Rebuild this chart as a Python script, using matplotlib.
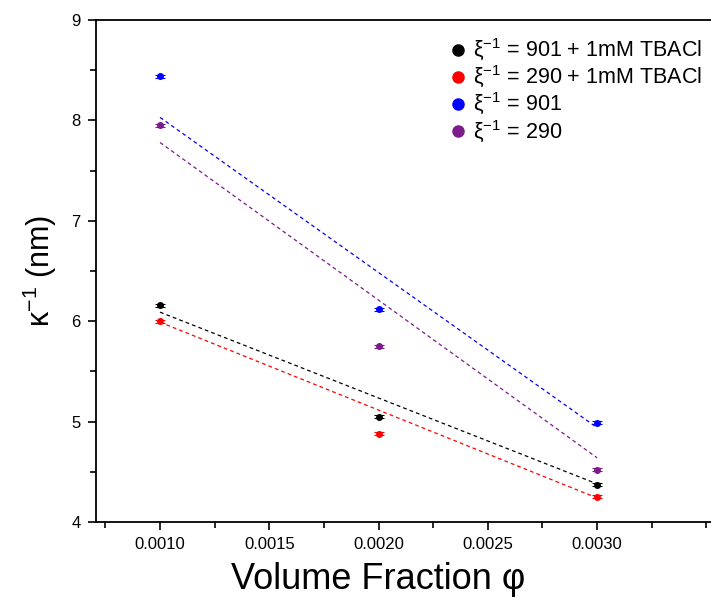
import matplotlib
matplotlib.use("Agg")
import matplotlib.pyplot as plt
from matplotlib.lines import Line2D
from matplotlib.ticker import MultipleLocator, FixedLocator, FormatStrFormatter

plt.rcParams['font.family'] = ['Liberation Sans', 'DejaVu Sans']
plt.rcParams['mathtext.fontset'] = 'custom'
plt.rcParams['mathtext.rm'] = 'Liberation Sans'
plt.rcParams['mathtext.it'] = 'Liberation Sans'

# volume fraction
phi = [0.0010, 0.0020, 0.0030]

# kappa^-1 (nm) for each sample
k_901_tbacl = [6.16, 5.05, 4.37]
k_290_tbacl = [6.00, 4.88, 4.25]
k_901 = [8.44, 6.12, 4.99]
k_290 = [7.95, 5.75, 4.52]
err = [0.015, 0.015, 0.015]

# dashed fit lines at phi = 0.001 and 0.003
fit_x = [0.0010, 0.0030]
fit_901_tbacl = [6.09, 4.38]
fit_290_tbacl = [5.99, 4.24]
fit_901 = [8.03, 4.94]
fit_290 = [7.78, 4.64]

x_ticks = [0.0010, 0.0015, 0.0020, 0.0025, 0.0030]

labels = ['ξ$^{-1}$ = 901 + 1mM TBACl', 'ξ$^{-1}$ = 290 + 1mM TBACl',
          'ξ$^{-1}$ = 901', 'ξ$^{-1}$ = 290']
colors = ['black', '#ff0000', '#0000ff', '#7d1a8c']
series = [k_901_tbacl, k_290_tbacl, k_901, k_290]
fits = [fit_901_tbacl, fit_290_tbacl, fit_901, fit_290]

# axes run past the right edge of the canvas (cropped like the original)
ax_w_px = 660
fig = plt.figure(figsize=(7.11, 6.07), dpi=100)
ax = fig.add_axes([96 / 711, 1 - 522 / 607, ax_w_px / 711, 502 / 607])

handles = []
for y, f, c, lab in zip(series, fits, colors, labels):
    ax.plot(fit_x, f, color=c, lw=0.9, linestyle=(0, (3, 2.5)))
    ax.errorbar(phi, y, yerr=err, fmt='o', color=c, ms=4, capsize=3.5,
                elinewidth=0.8, capthick=0.8)
    handles.append(Line2D([], [], ls='none', marker='o', ms=8, color=c, label=lab))

ax.set_xlim(0.000707, 0.000707 + ax_w_px / 218500)
ax.set_ylim(4, 9)
ax.xaxis.set_major_locator(FixedLocator(x_ticks))
ax.xaxis.set_minor_locator(MultipleLocator(0.00025))
ax.xaxis.set_major_formatter(FormatStrFormatter('%.4f'))
ax.yaxis.set_major_locator(MultipleLocator(1))
ax.yaxis.set_minor_locator(MultipleLocator(0.5))
ax.tick_params(which='major', direction='out', length=6, width=1.2, labelsize=12, pad=5)
ax.tick_params(which='minor', direction='out', length=4, width=1.2)
for s in ax.spines.values():
    s.set_linewidth(1.3)

ax.set_xlabel('Volume Fraction φ', fontsize=26)
ax.xaxis.set_label_coords((378 - 96) / ax_w_px, -0.08)
ax.set_ylabel('κ$^{-1}$ (nm)', fontsize=22, labelpad=9)

ax.legend(handles=handles, loc='upper left', bbox_to_anchor=((432 - 96) / ax_w_px, 1.0),
          frameon=False, fontsize=15.5, handlelength=0.8, handletextpad=0.3,
          labelspacing=0.05, borderpad=0.3)

fig.savefig('out.png', dpi=100)
